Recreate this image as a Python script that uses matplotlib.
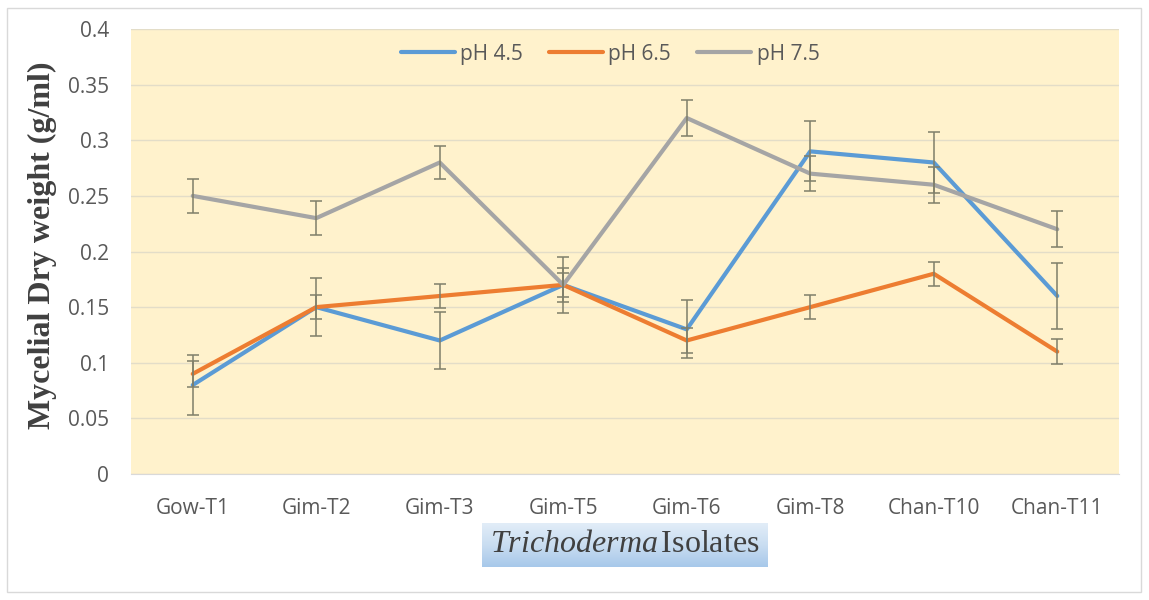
import numpy as np
import matplotlib
matplotlib.use("Agg")
import matplotlib.pyplot as plt
from matplotlib.colors import LinearSegmentedColormap
from matplotlib.patches import Rectangle

categories = ["Gow-T1", "Gim-T2", "Gim-T3", "Gim-T5", "Gim-T6", "Gim-T8", "Chan-T10", "Chan-T11"]
series_names = ["pH 4.5", "pH 6.5", "pH 7.5"]
ph45 = [0.08, 0.15, 0.12, 0.17, 0.13, 0.29, 0.28, 0.16]
ph65 = [0.09, 0.15, 0.16, 0.17, 0.12, 0.15, 0.18, 0.11]
ph75 = [0.25, 0.23, 0.28, 0.17, 0.32, 0.27, 0.26, 0.22]
err45 = [0.027, 0.026, 0.026, 0.025, 0.026, 0.027, 0.027, 0.03]
err65 = [0.012, 0.011, 0.011, 0.011, 0.011, 0.011, 0.011, 0.011]
err75 = [0.015, 0.015, 0.015, 0.015, 0.016, 0.016, 0.016, 0.016]
yticks = [0, 0.05, 0.1, 0.15, 0.2, 0.25, 0.3, 0.35, 0.4]
ytick_labels = ["0", "0.05", "0.1", "0.15", "0.2", "0.25", "0.3", "0.35", "0.4"]

colors = ["#5B9BD5", "#ED7D31", "#A5A5A5"]
W, H = 1149, 600
fig = plt.figure(figsize=(W / 100, H / 100), dpi=100)
fig.patch.set_facecolor("white")

# outer frame
fig.add_artist(Rectangle((7 / W, 8 / H), (1141 - 7) / W, (592 - 8) / H,
                         transform=fig.transFigure, fill=False,
                         edgecolor="#D9D9D9", linewidth=1.0))

left, right, top, bottom = 131, 1119, 29, 474
ax = fig.add_axes([left / W, 1 - bottom / H, (right - left) / W, (bottom - top) / H])
ax.set_facecolor("#FFF2CC")
x = np.arange(len(categories))
for vals, errs, c, name in zip([ph45, ph65, ph75], [err45, err65, err75], colors, series_names):
    ax.plot(x, vals, color=c, linewidth=3.0, label=name, zorder=3, solid_capstyle="round")
for vals, errs in zip([ph45, ph65, ph75], [err45, err65, err75]):
    ax.errorbar(x, vals, yerr=errs, fmt="none", ecolor="#7F7F6A", elinewidth=1.1,
                capsize=4.3, capthick=1.1, zorder=4)

ax.set_xlim(-0.5, len(categories) - 0.5)
ax.set_ylim(0, 0.4)
ax.set_yticks(yticks)
ax.set_yticklabels(ytick_labels)
ax.set_xticks(x)
ax.set_xticklabels(categories)
ax.grid(axis="y", color="#E3DDC8", linewidth=1.0, zorder=0)
ax.set_axisbelow(True)
for s in ["top", "right", "left"]:
    ax.spines[s].set_visible(False)
ax.spines["bottom"].set_color("#D9D9D9")
ax.tick_params(axis="both", length=0, labelsize=15, labelcolor="#595959")
ax.tick_params(axis="y", pad=16)
ax.tick_params(axis="x", pad=17)
for lab in ax.get_xticklabels() + ax.get_yticklabels():
    lab.set_fontfamily("Open Sans")

leg = ax.legend(loc="upper center", bbox_to_anchor=(0.485, 1.0), ncol=3, frameon=False,
                prop={"family": "Open Sans", "size": 15}, handlelength=2.6,
                columnspacing=1.25, handletextpad=0.25, borderaxespad=0.3)
for t in leg.get_texts():
    t.set_color("#595959")

fig.text(42 / W, 1 - 245 / H, "Mycelial Dry weight (g/ml)", rotation=90, ha="center", va="center",
         family="Liberation Serif", fontweight="bold", fontsize=23, color="#404040")

# gradient box behind x label
bx0, bx1, by0, by1 = 482, 768, 523, 567
gax = fig.add_axes([bx0 / W, 1 - by1 / H, (bx1 - bx0) / W, (by1 - by0) / H])
cmap = LinearSegmentedColormap.from_list("g", ["#E2EDF8", "#C9DDF1", "#A7C8EA"])
grad = np.linspace(0, 1, 100).reshape(-1, 1)
gax.imshow(grad, aspect="auto", cmap=cmap, extent=[0, 1, 0, 1], origin="upper")
gax.set_axis_off()

plt.rcParams["mathtext.fontset"] = "custom"
plt.rcParams["mathtext.it"] = "Liberation Serif:italic"
plt.rcParams["mathtext.rm"] = "Liberation Serif"
fig.text((bx0 + bx1) / 2 / W, 1 - (by0 + by1) / 2 / H, r"$\mathit{Trichoderma}\,$Isolates",
         ha="center", va="center", family="Liberation Serif", fontsize=23, color="#404040")

fig.savefig("out.png", dpi=100, facecolor="white")
